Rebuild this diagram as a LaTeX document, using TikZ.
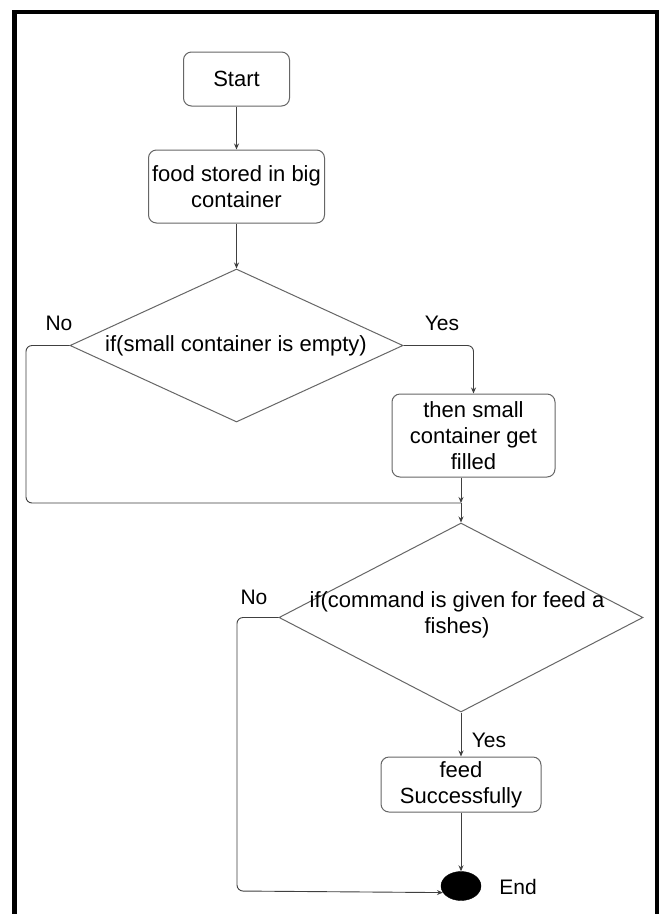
\documentclass[tikz,border=0pt]{standalone}
\usepackage{fontspec}
\setmainfont{Liberation Sans}
\usetikzlibrary{shapes.geometric,arrows.meta}
\begin{document}
\begin{tikzpicture}[x=1pt,y=-1pt,
  box/.style={draw=black!60, line width=1pt, rounded corners=8pt, align=center, font=\fontsize{22}{26}\selectfont, inner sep=0pt},
  dia/.style={draw=black!60, line width=1pt, diamond, inner sep=0pt, shape aspect=2},
  txt/.style={align=center, font=\fontsize{22}{26}\selectfont, inner sep=0pt},
  lbl/.style={font=\fontsize{21}{25}\selectfont, inner sep=0pt},
  conn/.style={draw=black!75, line width=0.9pt, rounded corners=6pt},
  arr/.style={-{Stealth[length=6pt,width=5pt]}},
]
\useasboundingbox (0,0) rectangle (663,914);
\fill[white] (0,0) rectangle (663,914);
% frame
\draw[line width=4.5pt] (14.5,930) -- (14.5,12) -- (657,12) -- (657,930);

% nodes
\node[box, minimum width=106pt, minimum height=54pt] (start) at (236.5,79) {Start};
\node[box, minimum width=176pt, minimum height=73pt] (food) at (236.5,186.5) {food stored in big\\container};
\node[dia, minimum width=333pt, minimum height=153pt] (d1) at (236.5,345.5) {};
\node[txt] (d1t) at (236,346) {if(small container is empty)};
\node[box, minimum width=163pt, minimum height=83pt] (fill) at (473.5,435.5) {then small\\container get\\filled};
\coordinate (merge) at (461,503);
\node[dia, minimum width=364pt, minimum height=189pt] (d2) at (461,617.5) {};
\node[txt] (d2t) at (457,615) {if(command is given for feed a\\fishes)};
\node[box, minimum width=160pt, minimum height=55pt] (feed) at (461,784.5) {feed\\Successfully};
\node[ellipse, fill=black, draw=black, minimum width=40pt, minimum height=29pt, inner sep=0pt] (end) at (461,886) {};
\node[lbl] (endl) at (518,887) {End};

% labels
\node[lbl] (no1) at (59,323) {No};
\node[lbl] (yes1) at (442,323) {Yes};
\node[lbl] (no2) at (254,597) {No};
\node[lbl] (yes2) at (489,740) {Yes};

% helper coordinates
\coordinate (c1) at (26,345.5);
\coordinate (c2) at (26,503);
\coordinate (c3) at (237,617.5);
\coordinate (c4) at (237,891);

% connectors
\draw[conn,arr] (start) -- (food);
\draw[conn,arr] (food) -- (d1);
\draw[conn,arr] (d1.east) -| (fill.north);
\draw[conn] (d1.west) -- (c1) -- (c2) -- (merge);
\draw[conn,arr] (fill.south -| merge) -- (merge);
\draw[conn,arr] (merge) -- (d2.north);
\draw[conn,arr] (d2.south) -- (feed.north);
\draw[conn,arr] (feed.south) -- (end.north);
\draw[conn,arr] (d2.west) -- (c3) -- (c4) -- (end.200);
\end{tikzpicture}
\end{document}
